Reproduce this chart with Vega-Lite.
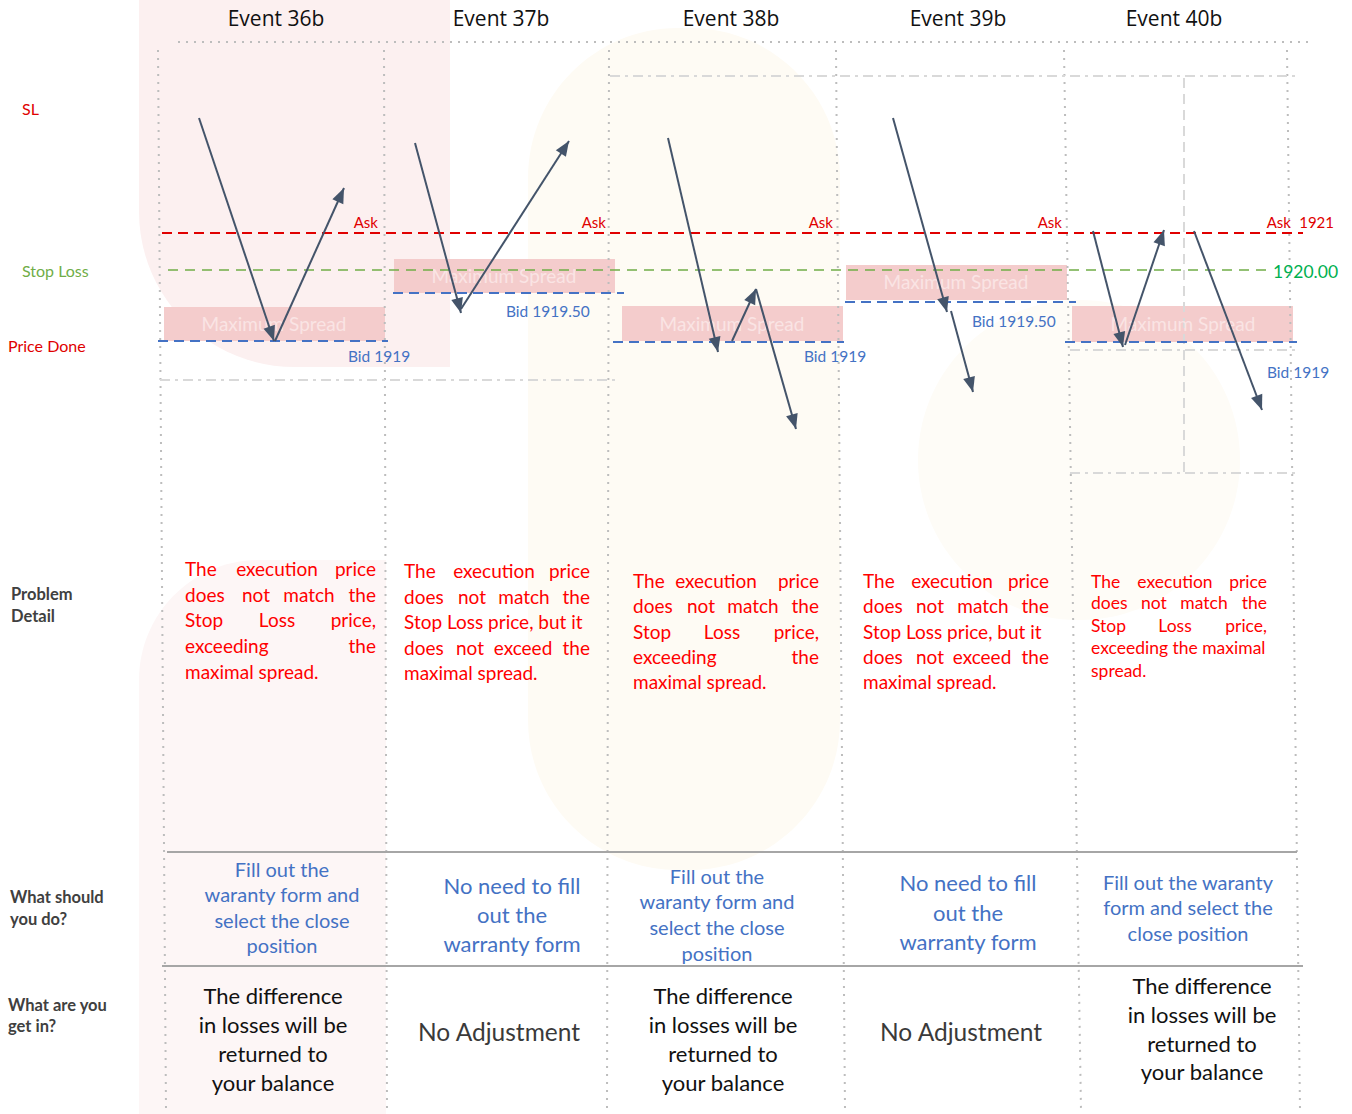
{
"$schema": "https://vega.github.io/schema/vega-lite/v6.json",
"width": 1352, "height": 1114,
"autosize": {"type": "fit", "contains": "padding"},
"padding": 0,
"background": "white",
"config": {"view": {"stroke": null}, "text": {"font": "Lato"}},
"datasets": {
"bg": [
{"k":"p1","x":139,"y":0,"x2":450,"y2":367},
{"k":"p2","x":139,"y":560,"x2":386,"y2":1114},
{"k":"b1","x":528,"y":28,"x2":840,"y2":870},
{"k":"b2","x":918,"y":300,"x2":1240,"y2":620}
],
"boxes": [
{"x":164,"y":307,"x2":385,"y2":341},
{"x":394,"y":259,"x2":615,"y2":293},
{"x":622,"y":306,"x2":843,"y2":341},
{"x":846,"y":265,"x2":1067,"y2":300},
{"x":1072,"y":306,"x2":1293,"y2":342}
],
"lines": [
{"k":"dot","x":178,"y":42,"x2":1308,"y2":42},
{"k":"dot","x":158,"y":50,"x2":166,"y2":1110},
{"k":"dot","x":384,"y":50,"x2":387,"y2":1110},
{"k":"dot","x":609,"y":50,"x2":607,"y2":1110},
{"k":"dot","x":836,"y":50,"x2":845,"y2":1110},
{"k":"dot","x":1064,"y":50,"x2":1081,"y2":1110},
{"k":"dot","x":1287,"y":50,"x2":1300,"y2":1110},
{"k":"dashdot","x":160,"y":380,"x2":615,"y2":380},
{"k":"dashdot","x":610,"y":76,"x2":1298,"y2":76},
{"k":"dashdot","x":1070,"y":350,"x2":1298,"y2":350},
{"k":"dashdot","x":1070,"y":473,"x2":1298,"y2":473},
{"k":"vdash","x":1184,"y":78,"x2":1184,"y2":473},
{"k":"ask","x":162,"y":233,"x2":1303,"y2":233},
{"k":"sl","x":168,"y":270,"x2":1270,"y2":270},
{"k":"bid","x":158,"y":341,"x2":388,"y2":341},
{"k":"bid","x":393,"y":293,"x2":624,"y2":293},
{"k":"bid","x":613,"y":342,"x2":844,"y2":342},
{"k":"bid","x":845,"y":302,"x2":1076,"y2":302},
{"k":"bid","x":1065,"y":342,"x2":1297,"y2":342},
{"k":"hr","x":167,"y":852,"x2":1297,"y2":852},
{"k":"hr","x":162,"y":966,"x2":1303,"y2":966}
],
"arrows": [
{"x":199,"y":118,"x2":274,"y2":341},
{"x":275,"y":341,"x2":344,"y2":188},
{"x":415,"y":143,"x2":461,"y2":313},
{"x":461,"y":309,"x2":569,"y2":141},
{"x":668,"y":138,"x2":718,"y2":352},
{"x":732,"y":341,"x2":756,"y2":289},
{"x":756,"y":289,"x2":796,"y2":429},
{"x":893,"y":118,"x2":947,"y2":312},
{"x":951,"y":311,"x2":973,"y2":392},
{"x":1093,"y":231,"x2":1123,"y2":347},
{"x":1125,"y":345,"x2":1164,"y2":230},
{"x":1194,"y":231,"x2":1262,"y2":410}
],
"txt": [
{"k":"title","x":276,"y":20,"t":"Event 36b"},
{"k":"title","x":501,"y":20,"t":"Event 37b"},
{"k":"title","x":731,"y":20,"t":"Event 38b"},
{"k":"title","x":958,"y":20,"t":"Event 39b"},
{"k":"title","x":1174,"y":20,"t":"Event 40b"},
{"k":"sideR","x":22,"y":110,"t":"SL"},
{"k":"sideR","x":8,"y":347,"t":"Price Done"},
{"k":"sideG","x":22,"y":272,"t":"Stop Loss"},
{"k":"sideB","x":11,"y":595,"t":"Problem"},
{"k":"sideB","x":11,"y":617,"t":"Detail"},
{"k":"sideB","x":10,"y":898,"t":"What should"},
{"k":"sideB","x":10,"y":920,"t":"you do?"},
{"k":"sideB","x":8,"y":1006,"t":"What are you"},
{"k":"sideB","x":8,"y":1027,"t":"get in?"},
{"k":"ask","x":378,"y":223,"t":"Ask"},
{"k":"ask","x":606,"y":223,"t":"Ask"},
{"k":"ask","x":833,"y":223,"t":"Ask"},
{"k":"ask","x":1062,"y":223,"t":"Ask"},
{"k":"ask","x":1291,"y":223,"t":"Ask"},
{"k":"ask","x":1334,"y":223,"t":"1921"},
{"k":"bid","x":348,"y":357,"t":"Bid 1919"},
{"k":"bid","x":506,"y":312,"t":"Bid 1919.50"},
{"k":"bid","x":804,"y":357,"t":"Bid 1919"},
{"k":"bid","x":972,"y":322,"t":"Bid 1919.50"},
{"k":"bid","x":1267,"y":373,"t":"Bid 1919"},
{"k":"slv","x":1273,"y":273,"t":"1920.00"},
{"k":"spr","x":274,"y":325,"t":"Maximum Spread"},
{"k":"spr","x":504,"y":277,"t":"Maximum Spread"},
{"k":"spr","x":732,"y":325,"t":"Maximum Spread"},
{"k":"spr","x":956,"y":283,"t":"Maximum Spread"},
{"k":"spr","x":1183,"y":325,"t":"Maximum Spread"},

{"k":"pL","x":185,"y":570,"t":"The"},
{"k":"pC","x":277,"y":570,"t":"execution"},
{"k":"pR","x":376,"y":570,"t":"price"},
{"k":"pL","x":185,"y":596,"t":"does"},
{"k":"pC","x":256,"y":596,"t":"not"},
{"k":"pC","x":309,"y":596,"t":"match"},
{"k":"pR","x":376,"y":596,"t":"the"},
{"k":"pL","x":185,"y":621,"t":"Stop"},
{"k":"pC","x":277,"y":621,"t":"Loss"},
{"k":"pR","x":376,"y":621,"t":"price,"},
{"k":"pL","x":185,"y":647,"t":"exceeding"},
{"k":"pR","x":376,"y":647,"t":"the"},
{"k":"pL","x":185,"y":673,"t":"maximal spread."},

{"k":"pL","x":404,"y":572,"t":"The"},
{"k":"pC","x":494,"y":572,"t":"execution"},
{"k":"pR","x":590,"y":572,"t":"price"},
{"k":"pL","x":404,"y":598,"t":"does"},
{"k":"pC","x":472,"y":598,"t":"not"},
{"k":"pC","x":524,"y":598,"t":"match"},
{"k":"pR","x":590,"y":598,"t":"the"},
{"k":"pL","x":404,"y":623,"t":"Stop Loss price, but it"},
{"k":"pL","x":404,"y":649,"t":"does"},
{"k":"pC","x":470,"y":649,"t":"not"},
{"k":"pC","x":523,"y":649,"t":"exceed"},
{"k":"pR","x":590,"y":649,"t":"the"},
{"k":"pL","x":404,"y":674,"t":"maximal spread."},

{"k":"pL","x":633,"y":582,"t":"The"},
{"k":"pC","x":716,"y":582,"t":"execution"},
{"k":"pR","x":819,"y":582,"t":"price"},
{"k":"pL","x":633,"y":607,"t":"does"},
{"k":"pC","x":701,"y":607,"t":"not"},
{"k":"pC","x":753,"y":607,"t":"match"},
{"k":"pR","x":819,"y":607,"t":"the"},
{"k":"pL","x":633,"y":633,"t":"Stop"},
{"k":"pC","x":722,"y":633,"t":"Loss"},
{"k":"pR","x":819,"y":633,"t":"price,"},
{"k":"pL","x":633,"y":658,"t":"exceeding"},
{"k":"pR","x":819,"y":658,"t":"the"},
{"k":"pL","x":633,"y":683,"t":"maximal spread."},

{"k":"pL","x":863,"y":582,"t":"The"},
{"k":"pC","x":952,"y":582,"t":"execution"},
{"k":"pR","x":1049,"y":582,"t":"price"},
{"k":"pL","x":863,"y":607,"t":"does"},
{"k":"pC","x":930,"y":607,"t":"not"},
{"k":"pC","x":983,"y":607,"t":"match"},
{"k":"pR","x":1049,"y":607,"t":"the"},
{"k":"pL","x":863,"y":633,"t":"Stop Loss price, but it"},
{"k":"pL","x":863,"y":658,"t":"does"},
{"k":"pC","x":930,"y":658,"t":"not"},
{"k":"pC","x":982,"y":658,"t":"exceed"},
{"k":"pR","x":1049,"y":658,"t":"the"},
{"k":"pL","x":863,"y":683,"t":"maximal spread."},

{"k":"qL","x":1091,"y":583,"t":"The"},
{"k":"qC","x":1175,"y":583,"t":"execution"},
{"k":"qR","x":1267,"y":583,"t":"price"},
{"k":"qL","x":1091,"y":604,"t":"does"},
{"k":"qC","x":1154,"y":604,"t":"not"},
{"k":"qC","x":1204,"y":604,"t":"match"},
{"k":"qR","x":1267,"y":604,"t":"the"},
{"k":"qL","x":1091,"y":627,"t":"Stop"},
{"k":"qC","x":1175,"y":627,"t":"Loss"},
{"k":"qR","x":1267,"y":627,"t":"price,"},
{"k":"qL","x":1091,"y":649,"t":"exceeding the maximal"},
{"k":"qL","x":1091,"y":672,"t":"spread."},

{"k":"todo","x":282,"y":871,"t":"Fill out the"},
{"k":"todo","x":282,"y":896,"t":"waranty form and"},
{"k":"todo","x":282,"y":922,"t":"select the close"},
{"k":"todo","x":282,"y":947,"t":"position"},
{"k":"todo","x":717,"y":878,"t":"Fill out the"},
{"k":"todo","x":717,"y":903,"t":"waranty form and"},
{"k":"todo","x":717,"y":929,"t":"select the close"},
{"k":"todo","x":717,"y":955,"t":"position"},
{"k":"todo","x":1188,"y":884,"t":"Fill out the waranty"},
{"k":"todo","x":1188,"y":909,"t":"form and select the"},
{"k":"todo","x":1188,"y":935,"t":"close position"},
{"k":"todo2","x":512,"y":887,"t":"No need to fill"},
{"k":"todo2","x":512,"y":916,"t":"out the"},
{"k":"todo2","x":512,"y":945,"t":"warranty form"},
{"k":"todo2","x":968,"y":884,"t":"No need to fill"},
{"k":"todo2","x":968,"y":914,"t":"out the"},
{"k":"todo2","x":968,"y":943,"t":"warranty form"},
{"k":"get","x":273,"y":997,"t":"The difference"},
{"k":"get","x":273,"y":1026,"t":"in losses will be"},
{"k":"get","x":273,"y":1055,"t":"returned to"},
{"k":"get","x":273,"y":1084,"t":"your balance"},
{"k":"get","x":723,"y":997,"t":"The difference"},
{"k":"get","x":723,"y":1026,"t":"in losses will be"},
{"k":"get","x":723,"y":1055,"t":"returned to"},
{"k":"get","x":723,"y":1084,"t":"your balance"},
{"k":"get","x":1202,"y":987,"t":"The difference"},
{"k":"get","x":1202,"y":1016,"t":"in losses will be"},
{"k":"get","x":1202,"y":1045,"t":"returned to"},
{"k":"get","x":1202,"y":1073,"t":"your balance"},
{"k":"get2","x":499,"y":1034,"t":"No Adjustment"},
{"k":"get2","x":961,"y":1034,"t":"No Adjustment"}
]
},
"encoding": {
"x": {"field": "x", "type": "quantitative", "scale": {"domain": [0, 1352], "nice": false, "zero": false}, "axis": null},
"y": {"field": "y", "type": "quantitative", "scale": {"domain": [0, 1114], "nice": false, "zero": false, "reverse": true}, "axis": null}
},
"layer": [
{"data": {"name": "bg"}, "transform": [{"filter": "datum.k == 'p1'"}], "mark": {"type": "rect", "color": "#FCF0F0", "cornerRadiusBottomLeft": 170}, "encoding": {"x2": {"field": "x2"}, "y2": {"field": "y2"}}},
{"data": {"name": "bg"}, "transform": [{"filter": "datum.k == 'p2'"}], "mark": {"type": "rect", "color": "#FDF6F6", "cornerRadiusTopLeft": 120}, "encoding": {"x2": {"field": "x2"}, "y2": {"field": "y2"}}},
{"data": {"name": "bg"}, "transform": [{"filter": "datum.k == 'b1'"}], "mark": {"type": "rect", "color": "#FEFBF4", "cornerRadius": 150}, "encoding": {"x2": {"field": "x2"}, "y2": {"field": "y2"}}},
{"data": {"name": "bg"}, "transform": [{"filter": "datum.k == 'b2'"}], "mark": {"type": "rect", "color": "#FEFCF7", "cornerRadius": 160}, "encoding": {"x2": {"field": "x2"}, "y2": {"field": "y2"}}},
{"data": {"name": "boxes"}, "mark": {"type": "rect", "color": "#F4CCCC"}, "encoding": {"x2": {"field": "x2"}, "y2": {"field": "y2"}}},
{"data": {"name": "lines"}, "transform": [{"filter": "datum.k == 'dot'"}], "mark": {"type": "rule", "color": "#BDBDBD", "strokeWidth": 2, "strokeDash": [2, 6]}, "encoding": {"x2": {"field": "x2"}, "y2": {"field": "y2"}}},
{"data": {"name": "lines"}, "transform": [{"filter": "datum.k == 'dashdot'"}], "mark": {"type": "rule", "color": "#D9D9D9", "strokeWidth": 2, "strokeDash": [10, 5, 3, 5]}, "encoding": {"x2": {"field": "x2"}, "y2": {"field": "y2"}}},
{"data": {"name": "lines"}, "transform": [{"filter": "datum.k == 'vdash'"}], "mark": {"type": "rule", "color": "#D9D9D9", "strokeWidth": 2, "strokeDash": [10, 6]}, "encoding": {"x2": {"field": "x2"}, "y2": {"field": "y2"}}},
{"data": {"name": "txt"}, "transform": [{"filter": "datum.k == 'spr'"}], "mark": {"type": "text", "align": "center", "baseline": "middle", "fontSize": 19, "color": "#FAE4E4"}, "encoding": {"text": {"field": "t"}}},
{"data": {"name": "lines"}, "transform": [{"filter": "datum.k == 'ask'"}], "mark": {"type": "rule", "color": "#E00000", "strokeWidth": 2, "strokeDash": [10, 6]}, "encoding": {"x2": {"field": "x2"}, "y2": {"field": "y2"}}},
{"data": {"name": "lines"}, "transform": [{"filter": "datum.k == 'sl'"}], "mark": {"type": "rule", "color": "#70AD47", "strokeWidth": 1.6, "strokeDash": [10, 7]}, "encoding": {"x2": {"field": "x2"}, "y2": {"field": "y2"}}},
{"data": {"name": "lines"}, "transform": [{"filter": "datum.k == 'bid'"}], "mark": {"type": "rule", "color": "#4472C4", "strokeWidth": 2, "strokeDash": [10, 6]}, "encoding": {"x2": {"field": "x2"}, "y2": {"field": "y2"}}},
{"data": {"name": "lines"}, "transform": [{"filter": "datum.k == 'hr'"}], "mark": {"type": "rule", "color": "#A6A6A6", "strokeWidth": 2}, "encoding": {"x2": {"field": "x2"}, "y2": {"field": "y2"}}},
{"data": {"name": "arrows"}, "mark": {"type": "rule", "color": "#44546A", "strokeWidth": 2}, "encoding": {"x2": {"field": "x2"}, "y2": {"field": "y2"}}},
{"data": {"name": "arrows"}, "transform": [{"calculate": "atan2(datum.x2 - datum.x, datum.y - datum.y2) * 180 / PI", "as": "ang"}],
 "mark": {"type": "point", "shape": "M0,0L-0.8,2L0.8,2Z", "filled": true, "size": 225, "color": "#44546A", "opacity": 1, "strokeWidth": 0},
 "encoding": {
  "x": {"field": "x2", "type": "quantitative", "scale": {"domain": [0, 1352], "nice": false, "zero": false}, "axis": null},
  "y": {"field": "y2", "type": "quantitative", "scale": {"domain": [0, 1114], "nice": false, "zero": false, "reverse": true}, "axis": null},
  "angle": {"field": "ang", "type": "quantitative", "scale": null}}},
{"data": {"name": "txt"}, "transform": [{"filter": "datum.k == 'title'"}], "mark": {"type": "text", "align": "center", "baseline": "middle", "fontSize": 21, "font": "Open Sans", "color": "#111111"}, "encoding": {"text": {"field": "t"}}},
{"data": {"name": "txt"}, "transform": [{"filter": "datum.k == 'sideR'"}], "mark": {"type": "text", "align": "left", "baseline": "middle", "fontSize": 16, "color": "#E00000"}, "encoding": {"text": {"field": "t"}}},
{"data": {"name": "txt"}, "transform": [{"filter": "datum.k == 'sideG'"}], "mark": {"type": "text", "align": "left", "baseline": "middle", "fontSize": 16, "color": "#70AD47"}, "encoding": {"text": {"field": "t"}}},
{"data": {"name": "txt"}, "transform": [{"filter": "datum.k == 'sideB'"}], "mark": {"type": "text", "align": "left", "baseline": "middle", "fontSize": 16.5, "fontWeight": "bold", "color": "#404040"}, "encoding": {"text": {"field": "t"}}},
{"data": {"name": "txt"}, "transform": [{"filter": "datum.k == 'ask'"}], "mark": {"type": "text", "align": "right", "baseline": "middle", "fontSize": 15, "color": "#E00000"}, "encoding": {"text": {"field": "t"}}},
{"data": {"name": "txt"}, "transform": [{"filter": "datum.k == 'bid'"}], "mark": {"type": "text", "align": "left", "baseline": "middle", "fontSize": 15.5, "color": "#4472C4"}, "encoding": {"text": {"field": "t"}}},
{"data": {"name": "txt"}, "transform": [{"filter": "datum.k == 'slv'"}], "mark": {"type": "text", "align": "left", "baseline": "middle", "fontSize": 17.5, "color": "#00B050"}, "encoding": {"text": {"field": "t"}}},
{"data": {"name": "txt"}, "transform": [{"filter": "datum.k == 'pL'"}], "mark": {"type": "text", "align": "left", "baseline": "middle", "fontSize": 19, "color": "#FF0000"}, "encoding": {"text": {"field": "t"}}},
{"data": {"name": "txt"}, "transform": [{"filter": "datum.k == 'pC'"}], "mark": {"type": "text", "align": "center", "baseline": "middle", "fontSize": 19, "color": "#FF0000"}, "encoding": {"text": {"field": "t"}}},
{"data": {"name": "txt"}, "transform": [{"filter": "datum.k == 'pR'"}], "mark": {"type": "text", "align": "right", "baseline": "middle", "fontSize": 19, "color": "#FF0000"}, "encoding": {"text": {"field": "t"}}},
{"data": {"name": "txt"}, "transform": [{"filter": "datum.k == 'qL'"}], "mark": {"type": "text", "align": "left", "baseline": "middle", "fontSize": 17.5, "color": "#FF0000"}, "encoding": {"text": {"field": "t"}}},
{"data": {"name": "txt"}, "transform": [{"filter": "datum.k == 'qC'"}], "mark": {"type": "text", "align": "center", "baseline": "middle", "fontSize": 17.5, "color": "#FF0000"}, "encoding": {"text": {"field": "t"}}},
{"data": {"name": "txt"}, "transform": [{"filter": "datum.k == 'qR'"}], "mark": {"type": "text", "align": "right", "baseline": "middle", "fontSize": 17.5, "color": "#FF0000"}, "encoding": {"text": {"field": "t"}}},
{"data": {"name": "txt"}, "transform": [{"filter": "datum.k == 'todo'"}], "mark": {"type": "text", "align": "center", "baseline": "middle", "fontSize": 20, "color": "#4472C4"}, "encoding": {"text": {"field": "t"}}},
{"data": {"name": "txt"}, "transform": [{"filter": "datum.k == 'todo2'"}], "mark": {"type": "text", "align": "center", "baseline": "middle", "fontSize": 22, "color": "#4472C4"}, "encoding": {"text": {"field": "t"}}},
{"data": {"name": "txt"}, "transform": [{"filter": "datum.k == 'get'"}], "mark": {"type": "text", "align": "center", "baseline": "middle", "fontSize": 22, "color": "#111111"}, "encoding": {"text": {"field": "t"}}},
{"data": {"name": "txt"}, "transform": [{"filter": "datum.k == 'get2'"}], "mark": {"type": "text", "align": "center", "baseline": "middle", "fontSize": 24.5, "color": "#3A3A3A"}, "encoding": {"text": {"field": "t"}}}
]
}
